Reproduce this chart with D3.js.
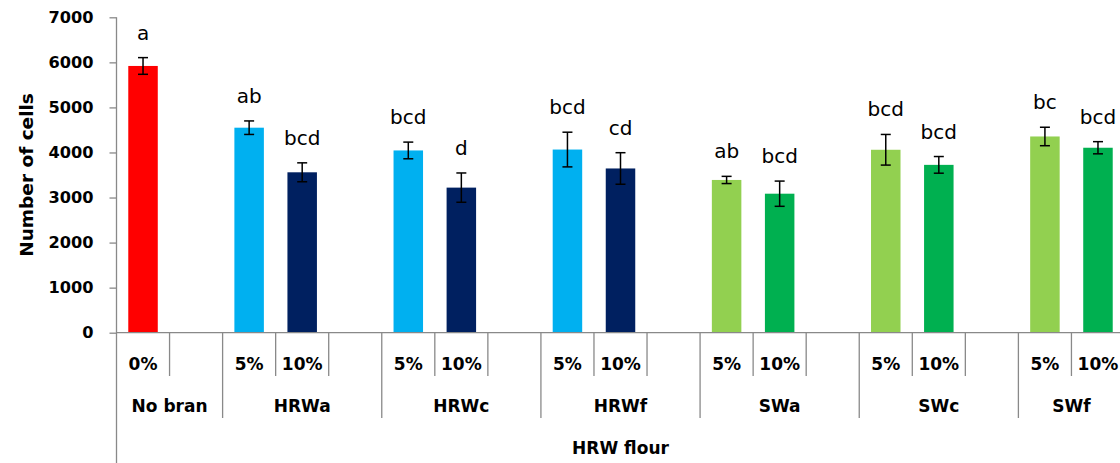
<!DOCTYPE html>
<html>
<head>
<meta charset="utf-8">
<script src="https://cdn.jsdelivr.net/npm/d3@7"></script>
<style>
  html, body { margin: 0; padding: 0; background: #fff; }
  svg { display: block; }
  text { font-family: "DejaVu Sans", sans-serif; fill: #000; }
</style>
</head>
<body>
<svg id="chart" width="1120" height="463"></svg>
<script>
// Category slots: [bran type, bran level]; empty level = spacer slot
const slotGroups = ["No bran","No bran","HRWa","HRWa","HRWa","HRWc","HRWc","HRWc",
                    "HRWf","HRWf","HRWf","SWa","SWa","SWa","SWc","SWc","SWc","SWf","SWf"];
const slotLevels = ["0%","","5%","10%","","5%","10%","","5%","10%","","5%","10%","","5%","10%","","5%","10%"];
const groupNames = ["No bran","HRWa","HRWc","HRWf","SWa","SWc","SWf"];
const outerLabel = "HRW flour";

// Mean number of cells and error (±) per slot
const cellCounts = [5920, null, 4550, 3560, null, 4045, 3220, null, 4065, 3645, null,
                    3390, 3085, null, 4060, 3725, null, 4355, 4105];
const cellErrors = [185, null, 150, 210, null, 185, 325, null, 385, 350, null,
                    80, 280, null, 340, 185, null, 205, 135];
const sigLetters = ["a","","ab","bcd","","bcd","d","","bcd","cd","",
                    "ab","bcd","","bcd","bcd","","bc","bcd"];
const yTicks = [0, 1000, 2000, 3000, 4000, 5000, 6000, 7000];

const svg = d3.select("#chart");
const axisColor = "#898989";
const xLeft = 116.5, xRight = 1124.5, yTop = 17.3, yBottom = 332.7, svgH = 463;

const x = d3.scaleBand().domain(d3.range(slotLevels.length)).range([xLeft, xRight]);
const y = d3.scaleLinear().domain([0, 7000]).range([yBottom, yTop]);

function barColor(i) {
  const g = slotGroups[i], lvl = slotLevels[i];
  if (g === "No bran") return "#FF0000";
  if (g.startsWith("HRW")) return lvl === "5%" ? "#00B0F0" : "#002060";
  return lvl === "5%" ? "#92D050" : "#00B050";
}

const idx = d3.range(cellCounts.length).filter(i => cellCounts[i] != null);
const barW = x.bandwidth() * 0.556;

// Bars
svg.append("g").selectAll("rect").data(idx).join("rect")
  .attr("x", i => x(i) + (x.bandwidth() - barW) / 2)
  .attr("width", barW)
  .attr("y", i => y(cellCounts[i]))
  .attr("height", i => y(0) - y(cellCounts[i]))
  .attr("fill", i => barColor(i));

// Error bars
const eb = svg.append("g").attr("stroke", "#000").attr("stroke-width", 1.5);
idx.forEach(i => {
  const cx = x(i) + x.bandwidth() / 2;
  const hi = y(cellCounts[i] + cellErrors[i]), lo = y(cellCounts[i] - cellErrors[i]);
  eb.append("line").attr("x1", cx).attr("x2", cx).attr("y1", hi).attr("y2", lo);
  eb.append("line").attr("x1", cx - 5).attr("x2", cx + 5).attr("y1", hi).attr("y2", hi);
  eb.append("line").attr("x1", cx - 5).attr("x2", cx + 5).attr("y1", lo).attr("y2", lo);
});

// Significance letters
svg.append("g").selectAll("text").data(idx).join("text")
  .attr("x", i => x(i) + x.bandwidth() / 2)
  .attr("y", i => y(cellCounts[i] + cellErrors[i]) - 18)
  .attr("text-anchor", "middle")
  .attr("font-size", 20)
  .text(i => sigLetters[i]);

// Y axis
const yAxis = svg.append("g").attr("transform", `translate(${xLeft},0)`)
  .call(d3.axisLeft(y).tickValues(yTicks).tickSize(7).tickSizeOuter(0).tickPadding(16).tickFormat(d3.format("d")));
yAxis.select(".domain").remove();
yAxis.selectAll(".tick line").attr("stroke", axisColor).attr("stroke-width", 1.3);
yAxis.selectAll(".tick text").attr("font-family", "DejaVu Sans, sans-serif")
  .attr("font-size", 16.2).attr("font-weight", "bold").attr("fill", "#000");
svg.append("line").attr("x1", xLeft).attr("x2", xLeft).attr("y1", yTop).attr("y2", svgH)
  .attr("stroke", axisColor).attr("stroke-width", 1.3);

// Y axis title
svg.append("text")
  .attr("transform", `translate(33,${(yTop + yBottom) / 2}) rotate(-90)`)
  .attr("text-anchor", "middle")
  .attr("font-size", 18.5).attr("font-weight", "bold")
  .text("Number of cells");

// Category axis line
svg.append("line").attr("x1", xLeft).attr("x2", xRight).attr("y1", yBottom).attr("y2", yBottom)
  .attr("stroke", axisColor).attr("stroke-width", 1.3);

// Slot and group dividers
const row1Bottom = 376, row2Bottom = 418;
const divs = svg.append("g").attr("stroke", axisColor).attr("stroke-width", 1.3);
for (let i = 1; i <= slotLevels.length; i++) {
  const bx = i < slotLevels.length ? x(i) : xRight;
  const isGroupEdge = i === slotLevels.length || slotGroups[i] !== slotGroups[i - 1];
  divs.append("line").attr("x1", bx).attr("x2", bx)
    .attr("y1", yBottom).attr("y2", isGroupEdge ? row2Bottom : row1Bottom);
}

// Level labels
svg.append("g").selectAll("text").data(d3.range(slotLevels.length)).join("text")
  .attr("x", i => x(i) + x.bandwidth() / 2)
  .attr("y", 370)
  .attr("text-anchor", "middle")
  .attr("font-size", 17).attr("font-weight", "bold")
  .text(i => slotLevels[i]);

// Group labels
svg.append("g").selectAll("text").data(groupNames).join("text")
  .attr("x", g => {
    const s = slotGroups.indexOf(g), e = slotGroups.lastIndexOf(g);
    return (x(s) + x(e) + x.bandwidth()) / 2;
  })
  .attr("y", 412)
  .attr("text-anchor", "middle")
  .attr("font-size", 17).attr("font-weight", "bold")
  .text(g => g);

// Outer label
svg.append("text")
  .attr("x", (xLeft + xRight) / 2)
  .attr("y", 454)
  .attr("text-anchor", "middle")
  .attr("font-size", 17).attr("font-weight", "bold")
  .text(outerLabel);
</script>
</body>
</html>
